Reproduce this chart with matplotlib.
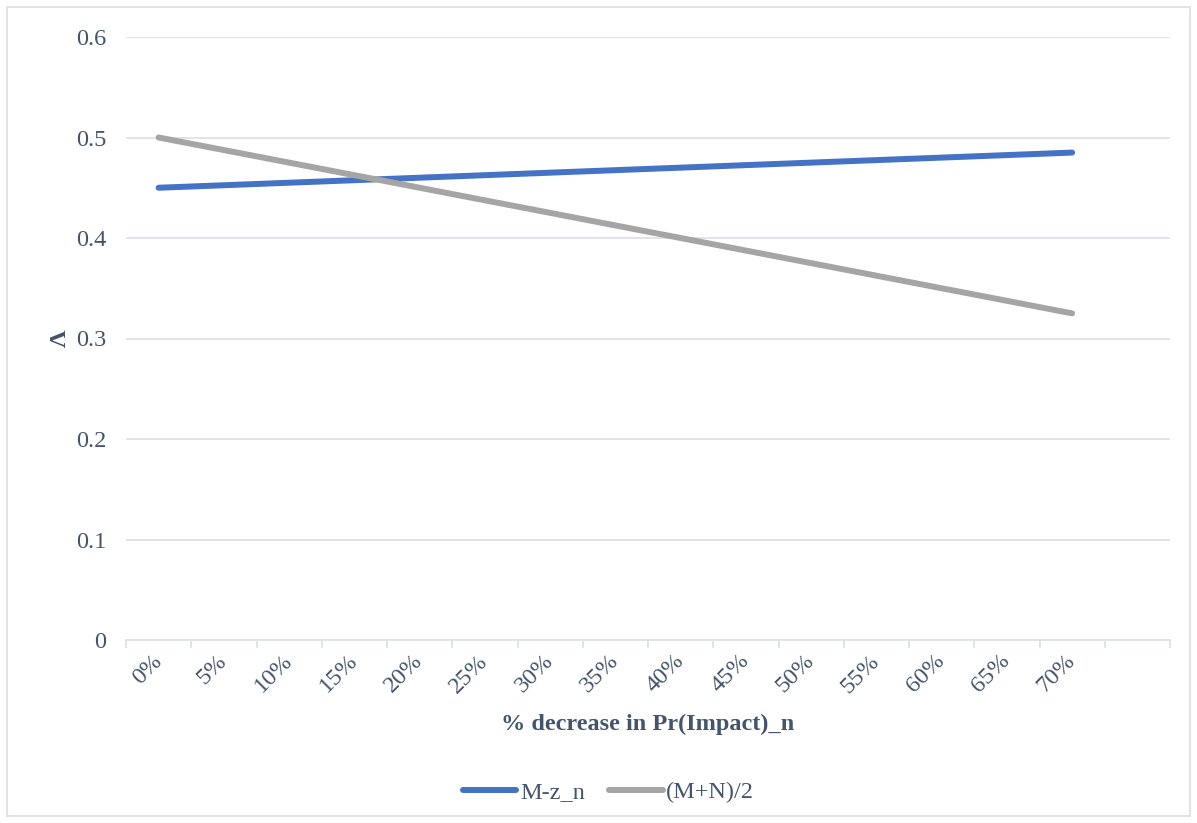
import matplotlib.pyplot as plt
from matplotlib.lines import Line2D
from matplotlib.patches import Rectangle
import numpy as np

# category axis: 0% .. 70% in 5% steps, plus one empty slot at the end
categories = ["0%", "5%", "10%", "15%", "20%", "25%", "30%", "35%",
              "40%", "45%", "50%", "55%", "60%", "65%", "70%", ""]
pct_points = [0, 70]
mzn = [0.45, 0.485]
mn_half = [0.50, 0.325]

text_col = "#44546A"
grid_col = "#DDE1E6"
blue = "#4472C4"
grey = "#A5A5A5"
fs = 17.5

plt.rcParams['font.family'] = ['Liberation Serif', 'DejaVu Serif']

fig = plt.figure(figsize=(11.97, 8.23), dpi=100)
ax = fig.add_axes([126/1197, 1-640/823, (1170-126)/1197, (640-37)/823])

xpos = np.array(pct_points) / 5.0
ax.plot(xpos, mzn, color=blue, lw=4.3, solid_capstyle='round', label="M-z_n")
ax.plot(xpos, mn_half, color=grey, lw=4.3, solid_capstyle='round', label="(M+N)/2")

ax.set_xlim(-0.5, len(categories) - 0.5)
ax.set_ylim(0, 0.6)
ax.set_yticks(np.arange(0, 0.61, 0.1))
ax.set_yticklabels(["0", "0.1", "0.2", "0.3", "0.4", "0.5", "0.6"])
ax.yaxis.grid(True, color=grid_col, lw=1.3)
ax.set_axisbelow(True)
ax.tick_params(axis='y', length=0, pad=14, labelsize=fs, labelcolor=text_col)

# ticks sit on slot boundaries, labels in the slot centres
ax.set_xticks(np.arange(-0.5, len(categories)), minor=False)
ax.set_xticklabels([])
ax.set_xticks(np.arange(len(categories)), minor=True)
ax.set_xticklabels(categories, minor=True, rotation=45, ha='right',
                   va='center', rotation_mode='anchor')
ax.tick_params(axis='x', which='major', length=6, width=1.3, color=grid_col)
ax.tick_params(axis='x', which='minor', length=0, pad=13, labelsize=fs,
               labelcolor=text_col)

for side in ['top', 'right', 'left']:
    ax.spines[side].set_visible(False)
ax.spines['bottom'].set_color(grid_col)
ax.spines['bottom'].set_linewidth(1.3)

ax.set_xlabel("% decrease in Pr(Impact)_n", fontsize=fs, fontweight='bold',
              color=text_col, labelpad=12)
ax.set_ylabel("Λ", fontsize=fs, fontweight='bold', color=text_col, labelpad=4)

handles = [Line2D([], [], color=blue, lw=4.3, solid_capstyle='round'),
           Line2D([], [], color=grey, lw=4.3, solid_capstyle='round')]
fig.legend(handles, ["M-z_n", "(M+N)/2"], loc='center', ncol=2,
           bbox_to_anchor=(0.5 + 10/1197, 1-792/823), frameon=False, fontsize=fs,
           labelcolor=text_col, handlelength=2.2, handletextpad=0.15,
           columnspacing=1.0)

fig.patches.append(Rectangle((7/1197, 1-816/823), 1183/1197, 809/823,
                             transform=fig.transFigure, fill=False,
                             edgecolor=grid_col, lw=1.3))

fig.savefig("out.png", dpi=100)
